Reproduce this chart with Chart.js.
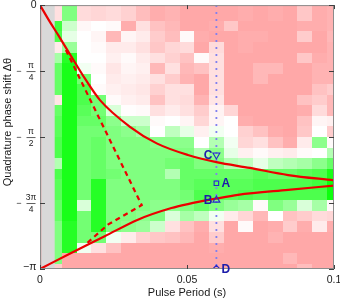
<!DOCTYPE html>
<html>
<head>
<meta charset="utf-8">
<script src="https://cdn.jsdelivr.net/npm/chart.js@4.4.0/dist/chart.umd.min.js"></script>
<style>
html,body{margin:0;padding:0;background:#fff;}
#wrap{width:340px;height:300px;position:relative;}
</style>
</head>
<body>
<div id="wrap"><canvas id="c"></canvas></div>
<script>
// ---- data ----
const periods = [0.005,0.01,0.015,0.02,0.025,0.03,0.035,0.04,0.045,0.05,0.055,0.06,0.065,0.07,0.075,0.08,0.085,0.09,0.095,0.1];
// phase rows in units of pi
const phaseRows = [0,-0.04,-0.08,-0.12,-0.16,-0.2,-0.24,-0.28,-0.32,-0.36,-0.4,-0.44,-0.48,-0.52,-0.56,-0.6,-0.64,-0.68,-0.72,-0.76,-0.8,-0.84,-0.88,-0.92,-0.96,-1];
// signal[row][col], -1 (red) .. +1 (green)
const signal = [
 [-0.3,0.5,-0.35,-0.4,-0.35,-0.45,-0.65,-0.8,-0.75,-0.85,-0.85,-0.85,-0.85,-0.8,-0.85,-0.8,-0.85,-0.55,-0.8,-0.75],
 [-0.3,0.5,-0.35,-0.4,-0.35,-0.45,-0.65,-0.8,-0.75,-0.85,-0.85,-0.85,-0.85,-0.8,-0.85,-0.8,-0.85,-0.55,-0.8,-0.75],
 [0.75,0.2,-0.08,0.0,-0.05,-0.8,-0.3,-0.6,-0.7,-0.85,-0.85,-0.8,-0.55,-0.85,-0.85,-0.85,-0.85,-0.8,-0.8,-0.75],
 [0.7,0.1,0.0,-0.1,-0.7,-0.1,-0.2,-0.5,-0.65,-0.05,-0.8,-0.85,-0.85,-0.8,-0.8,-0.85,-0.85,-0.5,-0.85,-0.7],
 [-0.2,0.4,0.0,-0.05,-0.2,-0.2,-0.3,-0.55,-0.4,-0.35,-0.85,-0.35,-0.85,-0.8,-0.85,-0.85,-0.85,-0.85,-0.85,-0.75],
 [0.35,0.85,0.0,0.0,-0.15,-0.05,-0.2,-0.3,-0.45,-0.6,-0.05,-0.3,-0.85,-0.85,-0.85,-0.85,-0.85,-0.55,-0.8,-0.75],
 [0.6,0.9,0.05,-0.05,-0.25,-0.1,-0.15,-0.7,-0.3,-0.7,-0.6,-0.3,-0.85,-0.85,-0.7,-0.7,-0.85,-0.85,-0.75,-0.75],
 [0.6,0.9,0.55,0.0,-0.2,-0.15,-0.2,-0.3,-0.5,-0.75,-0.85,-0.3,-0.85,-0.85,-0.7,-0.85,-0.85,-0.85,-0.75,-0.75],
 [0.6,0.9,0.7,-0.05,-0.15,-0.2,-0.25,-0.45,-0.3,-0.3,-0.85,-0.3,-0.85,-0.85,-0.85,-0.85,-0.85,-0.85,-0.6,-0.5],
 [-0.25,0.9,0.7,0.55,-0.05,-0.15,-0.2,-0.6,-0.3,-0.35,-0.75,-0.25,-0.85,-0.85,-0.85,-0.85,-0.85,-0.6,-0.5,-0.7],
 [0.6,0.9,0.65,0.55,0.15,-0.02,-0.05,-0.3,-0.2,-0.3,-0.5,-0.12,-0.4,-0.85,-0.85,-0.85,-0.85,-0.8,-0.35,-0.7],
 [0.65,0.9,0.6,0.6,0.45,0.2,0.2,-0.05,0.0,-0.1,-0.4,-0.1,0.0,-0.8,-0.85,-0.85,-0.85,-0.6,-0.1,-0.15],
 [0.65,0.9,0.55,0.55,0.5,0.45,0.35,0.0,0.25,0.1,-0.15,0.05,0.0,-0.45,-0.6,-0.8,-0.85,-0.55,0.0,-0.5],
 [0.7,0.9,0.55,0.6,0.5,0.5,0.5,0.45,0.45,0.45,0.0,0.3,0.05,-0.4,-0.3,-0.6,-0.8,-0.2,0.45,-0.05],
 [0.7,0.9,0.55,0.6,0.5,0.5,0.5,0.5,0.5,0.5,0.3,0.45,0.1,-0.15,-0.05,-0.15,-0.2,-0.05,0.0,0.3],
 [0.3,0.9,0.55,0.6,0.5,0.5,0.5,0.5,0.55,0.6,0.5,0.5,0.3,0.25,0.1,0.25,0.3,0.35,0.45,0.6],
 [0.7,0.9,0.55,0.6,0.55,0.5,0.5,0.5,0.3,0.6,0.6,0.6,0.6,0.6,0.65,0.6,0.6,0.65,0.7,0.9],
 [0.65,0.9,0.55,0.85,0.5,0.5,0.5,0.5,0.5,0.6,0.65,0.65,0.65,0.65,0.7,0.7,0.7,0.7,0.75,0.95],
 [0.65,0.9,0.55,0.85,0.5,0.5,0.5,0.5,0.5,0.55,0.7,0.65,0.65,0.7,0.65,0.7,0.7,0.7,0.7,0.95],
 [0.6,0.9,0.15,0.85,0.5,0.5,0.5,0.45,0.45,0.5,0.6,0.5,0.4,0.35,-0.05,0.5,0.4,0.15,0.35,-0.05],
 [0.6,0.9,0.55,0.85,0.5,0.5,0.45,0.5,0.15,0.35,0.25,0.05,-0.2,-0.4,-0.7,0.0,-0.6,-0.5,-0.35,-0.4],
 [0.5,0.85,0.55,0.85,0.5,0.45,0.4,0.2,-0.3,-0.6,-0.8,-0.3,-0.85,-0.05,-0.85,-0.8,-0.5,-0.8,-0.2,-0.8],
 [0.5,0.85,0.55,0.55,0.05,-0.2,-0.45,-0.55,-0.6,-0.7,-0.85,-0.5,-0.85,-0.85,-0.85,-0.75,-0.85,-0.85,-0.85,-0.85],
 [0.5,0.85,0.05,-0.3,-0.6,-0.85,-0.85,-0.85,-0.85,-0.85,-0.85,-0.8,-0.85,-0.85,-0.85,-0.85,-0.85,-0.85,-0.85,-0.85],
 [0.5,-0.85,-0.85,-0.85,-0.85,-0.85,-0.85,-0.85,-0.85,-0.85,-0.85,-0.85,-0.85,-0.85,-0.85,-0.85,-0.7,-0.85,-0.85,-0.85],
 [-0.5,-0.85,-0.85,-0.85,-0.85,-0.85,-0.85,-0.85,-0.85,-0.85,-0.85,-0.85,-0.85,-0.85,-0.85,-0.85,-0.85,-0.65,-0.85,-0.85]
];
const excludedPeriodEnd = 0.005;

const upperT     = [0,0.003,0.0061,0.0106,0.0152,0.0204,0.0306,0.0397,0.0503,0.06,0.0714,0.0844,0.1];
const upperPhase = [0,-0.057,-0.112,-0.194,-0.277,-0.36,-0.461,-0.524,-0.568,-0.595,-0.617,-0.644,-0.664];
const lowerT     = [0,0.0106,0.022,0.0333,0.0447,0.0503,0.06,0.0673,0.0844,0.1];
const lowerPhase = [-1,-0.939,-0.876,-0.813,-0.769,-0.754,-0.733,-0.719,-0.7,-0.684];
const dashT      = [0.0088,0.0346,0.0231,0.0153];
const dashPhase  = [-0.17,-0.758,-0.832,-0.909];
const edgeT      = [0,0];
const edgePhase  = [0,-1];
const cutT       = [0.06,0.06];
const cutPhase   = [0,-1];
const markerNames = ['C','A','B','D'];
const markerT     = [0.06,0.06,0.06,0.06];
const markerPhase = [-0.568,-0.675,-0.739,-1];

const xTickValues = [0,0.05,0.1];
const xTickLabels = ['0','0.05','0.1'];
const yTickValues = [0,-0.25,-0.5,-0.75,-1];
const yTickLabels = ['0','−π/4','−π/2','−3π/4','−π'];
const xTitle = 'Pulse Period (s)';
const yTitle = 'Quadrature phase shift Δθ';

// ---- helpers ----
const pts = (xs, ys) => xs.map((v,i)=>({x:v, y:ys[i]}));
function colorFor(v){
  if (v >= 0){ const c = Math.round(255*(1-v)); return `rgb(${c},255,${c})`; }
  const c = Math.round(255 + 102*v); return `rgb(255,${c},${c})`;
}
const FONT = '"Liberation Sans", Arial, Helvetica, sans-serif';

const heatPlugin = {
  id: 'heat',
  beforeDatasetsDraw(chart){
    const {ctx, chartArea:a, scales:{x, y}} = chart;
    const halfW = (periods[1]-periods[0])/2;
    const halfH = (phaseRows[0]-phaseRows[1])/2;
    ctx.save();
    ctx.beginPath(); ctx.rect(a.left, a.top, a.right-a.left, a.bottom-a.top); ctx.clip();
    for (let j=0;j<phaseRows.length;j++){
      for (let i=0;i<periods.length;i++){
        const x0 = Math.round(x.getPixelForValue(periods[i]-halfW));
        const x1 = Math.round(x.getPixelForValue(periods[i]+halfW));
        const y0 = Math.round(y.getPixelForValue(phaseRows[j]+halfH));
        const y1 = Math.round(y.getPixelForValue(phaseRows[j]-halfH));
        ctx.fillStyle = colorFor(signal[j][i]);
        ctx.fillRect(x0, y0, x1-x0+0.5, y1-y0+0.5);
      }
    }
    const g0 = x.getPixelForValue(0), g1 = x.getPixelForValue(excludedPeriodEnd);
    ctx.fillStyle = '#d9d9d9';
    ctx.fillRect(g0, a.top, g1-g0, a.bottom-a.top);
    ctx.restore();
  }
};

const framePlugin = {
  id: 'frame',
  afterDraw(chart){
    const {ctx, chartArea:a, scales:{x, y}} = chart;
    ctx.save();
    // frame
    ctx.strokeStyle = '#8c8c8c'; ctx.lineWidth = 1;
    ctx.strokeRect(a.left+0.5, a.top+0.5, a.right-a.left-1, a.bottom-a.top-1);
    // ticks
    ctx.strokeStyle = '#404040';
    ctx.beginPath();
    yTickValues.forEach(v=>{
      const py = Math.round(y.getPixelForValue(v))+0.5;
      ctx.moveTo(a.left, py); ctx.lineTo(a.left+5, py);
      ctx.moveTo(a.right, py); ctx.lineTo(a.right-5, py);
    });
    xTickValues.forEach(v=>{
      const px = Math.round(x.getPixelForValue(v))+0.5;
      ctx.moveTo(px, a.bottom); ctx.lineTo(px, a.bottom-4);
      ctx.moveTo(px, a.top); ctx.lineTo(px, a.top+4);
    });
    ctx.stroke();
    // x tick labels
    ctx.fillStyle = '#1a1a1a';
    ctx.font = '10.5px ' + FONT;
    ctx.textAlign = 'center'; ctx.textBaseline = 'middle';
    xTickValues.forEach((v,i)=>{
      let px = x.getPixelForValue(v);
      ctx.fillText(xTickLabels[i], px, a.bottom + 11.5);
    });
    // y tick labels (fractions)
    yTickValues.forEach((v,i)=>{
      const py = y.getPixelForValue(v);
      const lab = yTickLabels[i];
      if (lab.indexOf('/') < 0){
        ctx.font = '10.5px ' + FONT;
        ctx.textAlign = 'right'; ctx.textBaseline = 'middle';
        ctx.fillText(lab, a.left - 3.5, py + (i===0 ? 0 : -2));
      } else {
        const sign = lab.startsWith('−') ? '−' : '';
        const body = sign ? lab.slice(1) : lab;
        const [num, den] = body.split('/');
        ctx.font = '9px ' + FONT;
        ctx.textAlign = 'center'; ctx.textBaseline = 'middle';
        ctx.fillText(sign, 19, py);
        ctx.font = '8.5px ' + FONT;
        ctx.fillText(num, 31, py - 5);
        ctx.fillText(den, 31, py + 6.5);
        ctx.strokeStyle = '#1a1a1a'; ctx.lineWidth = 0.7;
        ctx.beginPath(); ctx.moveTo(26.5, py+0.5); ctx.lineTo(35.5, py+0.5); ctx.stroke();
      }
    });
    // axis titles
    ctx.font = '11px ' + FONT;
    ctx.fillStyle = '#1a1a1a';
    ctx.textAlign = 'center'; ctx.textBaseline = 'middle';
    ctx.fillText(xTitle, (a.left + a.right)/2, 293);
    ctx.save();
    ctx.translate(8, 122);
    ctx.rotate(-Math.PI/2);
    ctx.fillText(yTitle, 0, 0);
    ctx.restore();
    // marker labels
    ctx.font = 'bold 12px ' + FONT;
    ctx.fillStyle = 'rgb(28,28,170)';
    ctx.textBaseline = 'middle';
    markerNames.forEach((n,i)=>{
      const px = x.getPixelForValue(markerT[i]);
      const py = y.getPixelForValue(markerPhase[i]);
      const leftSide = (n === 'C' || n === 'B');
      ctx.textAlign = leftSide ? 'right' : 'left';
      ctx.fillText(n, leftSide ? px - 4 : px + 5, py + 0.5);
    });
    ctx.restore();
  }
};

const red = 'rgb(235,0,0)';
new Chart(document.getElementById('c'), {
  type: 'scatter',
  data: {
    datasets: [
      { label:'markers', data: pts(markerT, markerPhase), order: 0,
        pointStyle: ['triangle','rect','triangle','rectRot'], rotation: [180,0,0,0],
        pointRadius: [4,3.2,4,3.6], borderColor: 'rgb(40,40,200)', backgroundColor: 'rgba(0,0,0,0)',
        pointBorderWidth: 1.1, showLine: false },
      { label:'upper', data: pts(upperT, upperPhase), order: 2, showLine: true, borderColor: red, borderWidth: 2.2,
        pointRadius: 0, cubicInterpolationMode: 'monotone' },
      { label:'lower', data: pts(lowerT, lowerPhase), order: 2, showLine: true, borderColor: red, borderWidth: 2.2,
        pointRadius: 0, cubicInterpolationMode: 'monotone' },
      { label:'edge', data: pts(edgeT, edgePhase), order: 2, showLine: true, borderColor: red, borderWidth: 2.2,
        pointRadius: 0 },
      { label:'dashed', data: pts(dashT, dashPhase), order: 2, showLine: true, borderColor: red, borderWidth: 2.2,
        borderDash: [5,4], pointRadius: 0, tension: 0 },
      { label:'cut', data: pts(cutT, cutPhase), order: 3, showLine: true, borderColor: 'rgb(128,128,240)', borderWidth: 1.8,
        borderDash: [2,5], pointRadius: 0 }
    ]
  },
  options: {
    responsive: true, maintainAspectRatio: false, animation: false, devicePixelRatio: 1,
    layout: { padding: { top: 5, right: 6, left: 0, bottom: 0 } },
    plugins: { legend: { display: false }, tooltip: { enabled: false } },
    scales: {
      x: { type: 'linear', min: 0, max: 0.1, grid: { display: false }, border: { display: false },
           ticks: { display: false }, afterFit(s){ s.height = 31; } },
      y: { type: 'linear', min: -1, max: 0, grid: { display: false }, border: { display: false },
           ticks: { display: false }, afterFit(s){ s.width = 40; } }
    }
  },
  plugins: [heatPlugin, framePlugin]
});
</script>
</body>
</html>
